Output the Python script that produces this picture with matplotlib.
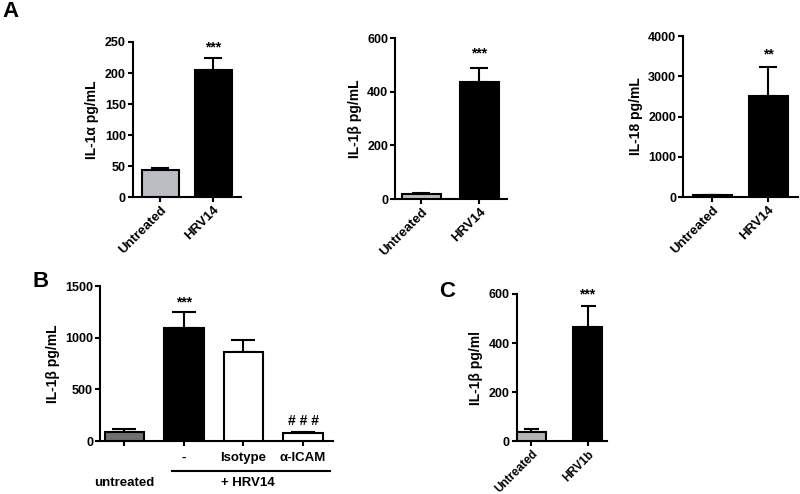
import matplotlib
matplotlib.use('Agg')
import matplotlib.pyplot as plt

plt.rcParams['font.family'] = ['Liberation Sans', 'DejaVu Sans']
plt.rcParams['font.weight'] = 'bold'

# Panel A data
a_groups = ['Untreated', 'HRV14']
il1a_mean = [43, 205]
il1a_err = [4, 20]
il1b_mean = [20, 435]
il1b_err = [4, 55]
il18_mean = [40, 2520]
il18_err = [8, 710]

# Panel B data
b_groups = ['', '-', 'Isotype', 'α-ICAM']
b_mean = [90, 1095, 865, 80]
b_err = [28, 155, 110, 10]

# Panel C data
c_groups = ['Untreated', 'HRV1b']
c_mean = [38, 465]
c_err = [10, 85]

TICK_FS = 9
LABEL_FS = 10
XLAB_FS = 9.5
STAR_FS = 10

fig = plt.figure(figsize=(8, 4.94), dpi=100)


def style_axes(ax, ylim, yticks, ylabel, xlim):
    ax.set_xlim(*xlim)
    ax.set_ylim(*ylim)
    ax.set_yticks(yticks)
    for s in ['top', 'right']:
        ax.spines[s].set_visible(False)
    for s in ['left', 'bottom']:
        ax.spines[s].set_linewidth(1.5)
    ax.tick_params(width=1.5, length=3.5, labelsize=TICK_FS, pad=1.5)
    for lab in ax.get_yticklabels():
        lab.set_fontweight('bold')
    ax.set_ylabel(ylabel, fontsize=LABEL_FS, fontweight='bold', labelpad=4)


def bar_panel(ax, groups, means, errs, colors, width, capsize):
    x = list(range(len(groups)))
    ax.bar(x, means, width=width, color=colors, edgecolor='black', linewidth=1.5, zorder=3)
    ax.errorbar(x, means, yerr=[[0] * len(errs), errs], fmt='none', ecolor='black',
                elinewidth=1.5, capsize=capsize, capthick=1.5, zorder=2)
    return x


def rot_labels(ax, x, labels, fs=XLAB_FS):
    ax.set_xticks(x)
    ax.set_xticklabels(labels, rotation=45, ha='right', rotation_mode='anchor',
                       fontsize=fs, fontweight='bold')


# A1
ax1 = fig.add_axes([0.166, 0.601, 0.135, 0.314])
x = bar_panel(ax1, a_groups, il1a_mean, il1a_err, ['#b9bcc0', 'black'], 0.7, 6.8)
style_axes(ax1, (0, 250), [0, 50, 100, 150, 200, 250], 'IL-1α pg/mL', (-0.52, 1.52))
rot_labels(ax1, x, a_groups)
ax1.text(1, il1a_mean[1] + il1a_err[1] + 5, '***', ha='center', va='bottom', fontsize=STAR_FS)

# A2
ax2 = fig.add_axes([0.494, 0.597, 0.14, 0.326])
x = bar_panel(ax2, a_groups, il1b_mean, il1b_err, ['#b9bcc0', 'black'], 0.67, 6.8)
style_axes(ax2, (0, 600), [0, 200, 400, 600], 'IL-1β pg/mL', (-0.45, 1.48))
rot_labels(ax2, x, a_groups)
ax2.text(1, il1b_mean[1] + il1b_err[1] + 25, '***', ha='center', va='bottom', fontsize=STAR_FS)

# A3
ax3 = fig.add_axes([0.854, 0.601, 0.144, 0.326])
x = bar_panel(ax3, a_groups, il18_mean, il18_err, ['#b9bcc0', 'black'], 0.7, 6.8)
style_axes(ax3, (0, 4000), [0, 1000, 2000, 3000, 4000], 'IL-18 pg/mL', (-0.52, 1.54))
rot_labels(ax3, x, a_groups)
ax3.text(1, il18_mean[1] + il18_err[1] + 150, '**', ha='center', va='bottom', fontsize=STAR_FS)

# B
axb = fig.add_axes([0.125, 0.107, 0.291, 0.314])
x = bar_panel(axb, b_groups, b_mean, b_err, ['#707070', 'black', 'white', 'white'], 0.66, 8.6)
style_axes(axb, (0, 1500), [0, 500, 1000, 1500], 'IL-1β pg/mL', (-0.41, 3.5))
axb.set_xticks(x)
axb.set_xticklabels(b_groups, fontsize=XLAB_FS, fontweight='bold')
axb.tick_params(axis='x', pad=4)
axb.text(1, b_mean[1] + b_err[1] + 25, '***', ha='center', va='bottom', fontsize=STAR_FS)
axb.text(3, b_mean[3] + b_err[3] + 35, '# # #', ha='center', va='bottom', fontsize=STAR_FS)
axb.plot([0.8, 3.45], [-0.19, -0.19], color='black', lw=1.5,
         transform=axb.get_xaxis_transform(), clip_on=False)
axb.text(0, -0.27, 'untreated', ha='center', va='center', fontsize=XLAB_FS,
         transform=axb.get_xaxis_transform())
axb.text(2.08, -0.27, '+ HRV14', ha='center', va='center', fontsize=XLAB_FS,
         transform=axb.get_xaxis_transform())

# C
axc = fig.add_axes([0.646, 0.107, 0.113, 0.298])
x = bar_panel(axc, c_groups, c_mean, c_err, ['#b4b4b4', 'black'], 0.52, 5.4)
style_axes(axc, (0, 600), [0, 200, 400, 600], 'IL-1β pg/ml', (-0.26, 1.35))
rot_labels(axc, x, c_groups, fs=8.5)
axc.text(1, 570, '***', ha='center', va='bottom', fontsize=STAR_FS)

# panel letters
fig.text(0.003, 0.997, 'A', fontsize=16, fontweight='bold', va='top')
fig.text(0.04, 0.452, 'B', fontsize=16, fontweight='bold', va='top')
fig.text(0.549, 0.432, 'C', fontsize=16, fontweight='bold', va='top')

fig.savefig('out.png', dpi=100)
